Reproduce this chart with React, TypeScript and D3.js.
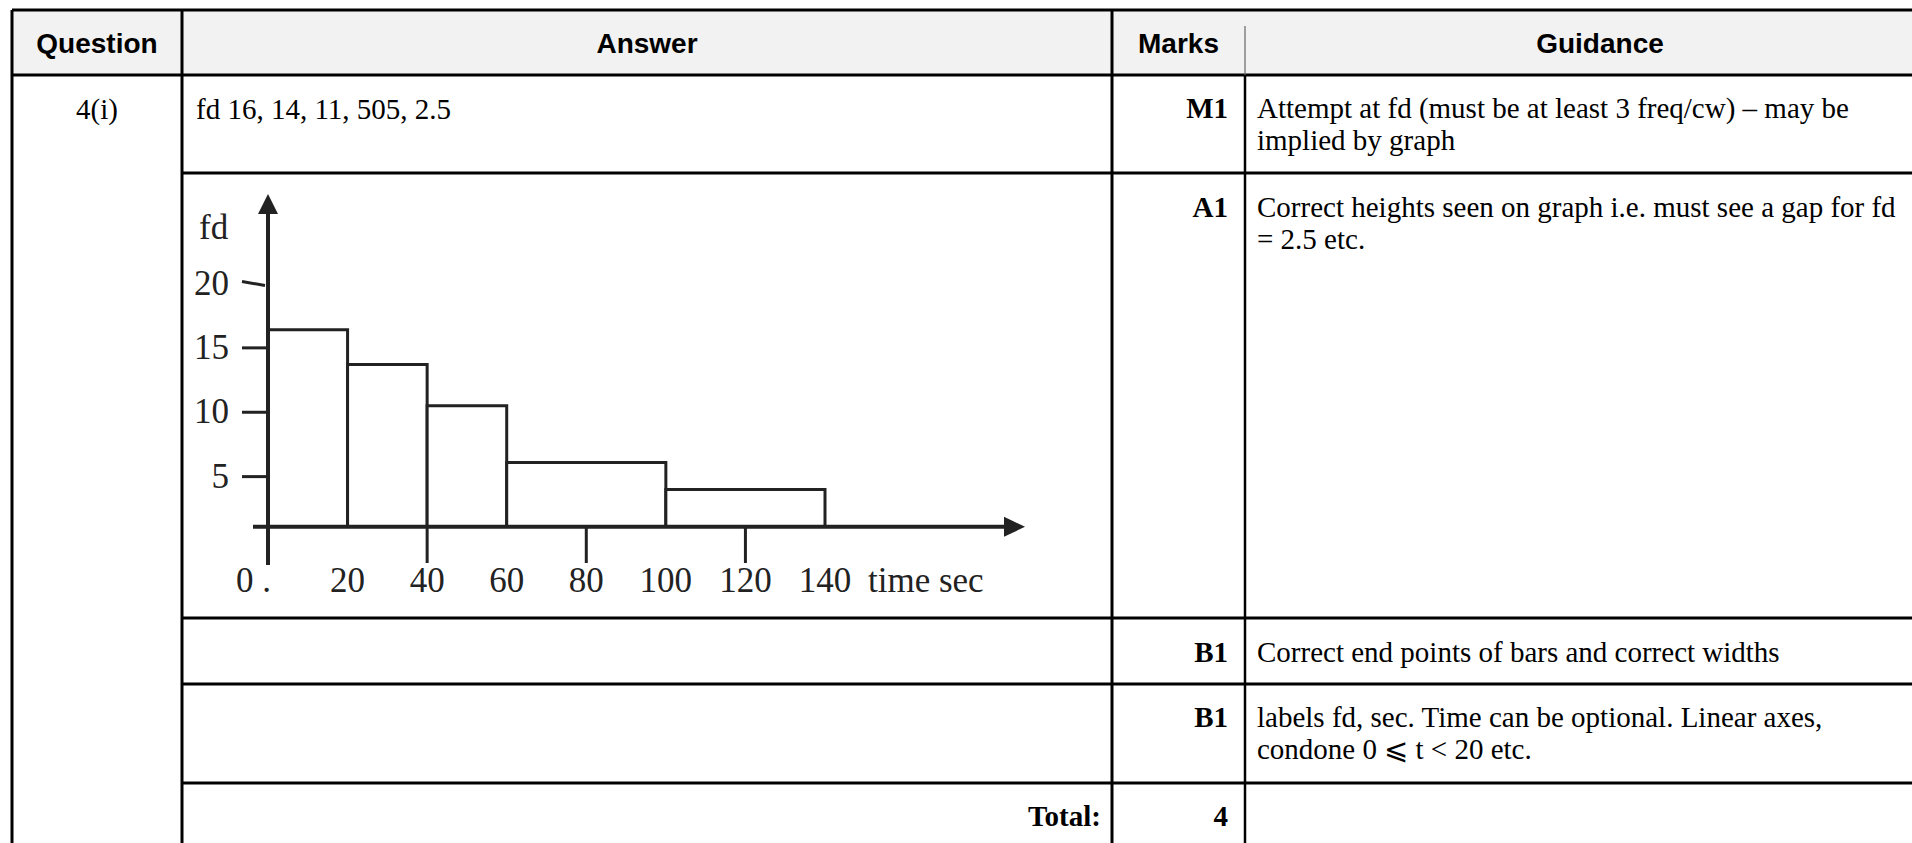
import React from "react";
import * as d3 from "d3";

// ---------- data ----------
const headers = ["Question", "Answer", "Marks", "Guidance"];
const questionLabel = "4(i)";
const answerText = "fd 16, 14, 11, 505, 2.5";
const marks = ["M1", "A1", "B1", "B1"];
const guidance = [
  ["Attempt at fd (must be at least 3 freq/cw) \u2013 may be", "implied by graph"],
  ["Correct heights seen on graph i.e. must see a gap for fd", "= 2.5 etc."],
  ["Correct end points of bars and correct widths"],
  ["labels fd, sec. Time can be optional. Linear axes,", "condone 0 \u2A7D t < 20 etc."],
];
const totalLabel = "Total:";
const totalMarks = "4";

// histogram
const binEdges = [0, 20, 40, 60, 100, 140];
const fdValues = [16.4, 13.7, 10.5, 6.1, 4.0];
const yTicks = [5, 10, 15, 20];
const xTickLabels = [0, 20, 40, 60, 80, 100, 120, 140];
const xTickMarks = [40, 80, 120];
const axisBaseFd = 1.1;
const yLabel = "fd";
const xLabel = "time sec";

// ---------- layout ----------
const W = 1912;
const H = 843;
const colX = [12, 182, 1112, 1245, 1955];
const rowY = [10, 75, 173, 618, 684, 783, 900];

const serif = "'Liberation Serif', 'Times New Roman', serif";
const sans = "'Liberation Sans', Arial, sans-serif";

export default function App() {
  const x = d3.scaleLinear().domain([0, 140]).range([268, 825]);
  const y = d3.scaleLinear().domain([0, 20]).range([541, 283.5]);
  const base = y(axisBaseFd);
  const x0 = x(0);

  const bars = fdValues.map((v, i) => ({ a: binEdges[i], b: binEdges[i + 1], v }));

  const bodySize = 29;
  const lh = 32;
  const marksRowBase = [118, 217, 662, 727];

  return (
    <svg
      width={W}
      height={H}
      style={{ position: "absolute", left: 0, top: 0, background: "#fff" }}
    >
      {/* header fill */}
      <rect x={colX[0]} y={rowY[0]} width={W - colX[0]} height={rowY[1] - rowY[0]} fill="#f2f2f2" />

      {/* header text */}
      {headers.map((h, i) => (
        <text
          key={h}
          x={(colX[i] + colX[i + 1]) / 2}
          y={53}
          textAnchor="middle"
          fontFamily={sans}
          fontWeight="bold"
          fontSize={28}
          fill="#000"
        >
          {h}
        </text>
      ))}

      {/* table lines */}
      <g stroke="#000" strokeWidth={3} fill="none">
        <line x1={colX[0]} y1={rowY[0]} x2={W} y2={rowY[0]} />
        <line x1={colX[0]} y1={rowY[1]} x2={W} y2={rowY[1]} />
        {rowY.slice(2, 6).map((ry) => (
          <line key={ry} x1={colX[1]} y1={ry} x2={W} y2={ry} />
        ))}
        <line x1={colX[0]} y1={rowY[0]} x2={colX[0]} y2={H} />
        <line x1={colX[1]} y1={rowY[0]} x2={colX[1]} y2={H} />
        <line x1={colX[2]} y1={rowY[0]} x2={colX[2]} y2={H} />
        <line x1={colX[3]} y1={rowY[1]} x2={colX[3]} y2={H} strokeWidth={2.5} />
        <line x1={colX[3]} y1={rowY[0] + 16} x2={colX[3]} y2={rowY[1]} strokeWidth={1.2} stroke="#666" />
      </g>

      {/* question */}
      <text x={(colX[0] + colX[1]) / 2} y={119} textAnchor="middle" fontFamily={serif} fontSize={bodySize}>
        {questionLabel}
      </text>
      {/* answer text */}
      <text x={196} y={119} fontFamily={serif} fontSize={bodySize}>
        {answerText}
      </text>

      {/* marks */}
      {marks.map((m, i) => (
        <text key={i} x={1228} y={marksRowBase[i]} textAnchor="end" fontFamily={serif} fontWeight="bold" fontSize={bodySize}>
          {m}
        </text>
      ))}
      {/* guidance */}
      {guidance.map((lines, i) =>
        lines.map((t, j) => (
          <text key={i + "-" + j} x={1257} y={marksRowBase[i] + j * lh} fontFamily={serif} fontSize={bodySize}>
            {t}
          </text>
        ))
      )}
      {/* total */}
      <text x={1101} y={826} textAnchor="end" fontFamily={serif} fontWeight="bold" fontSize={bodySize}>
        {totalLabel}
      </text>
      <text x={1228} y={826} textAnchor="end" fontFamily={serif} fontWeight="bold" fontSize={bodySize}>
        {totalMarks}
      </text>

      {/* ---------- histogram ---------- */}
      <g stroke="#222" fill="none">
        {bars.map((d, i) => (
          <path
            key={i}
            d={`M${x(d.a)},${base}V${y(d.v)}H${x(d.b)}V${base}`}
            strokeWidth={3}
            fill="#fff"
          />
        ))}
        {/* y axis */}
        <line x1={x0} y1={565} x2={x0} y2={212} strokeWidth={4} />
        {/* x axis */}
        <line x1={253} y1={base} x2={1006} y2={base} strokeWidth={4} />
        {/* y ticks (top one drawn slightly slanted, as in the sketch) */}
        {yTicks.map((t) => (
          <line
            key={t}
            x1={x0 - 26}
            y1={t === 20 ? y(t) - 2 : y(t)}
            x2={t === 20 ? x0 - 3 : x0}
            y2={t === 20 ? y(t) + 2 : y(t)}
            strokeWidth={3}
          />
        ))}
        {/* x ticks */}
        {xTickMarks.map((t) => (
          <line key={t} x1={x(t)} y1={base} x2={x(t)} y2={563} strokeWidth={3} />
        ))}
      </g>
      {/* arrows */}
      <path d={`M${x0 - 10},214L${x0},194L${x0 + 10},214Z`} fill="#222" />
      <path d={`M1004,${base - 10}L1025,${base}L1004,${base + 10}Z`} fill="#222" />

      {/* y labels */}
      {yTicks.map((t) => (
        <text key={t} x={229} y={y(t) + 11} textAnchor="end" fontFamily={serif} fontSize={35} fill="#222">
          {t}
        </text>
      ))}
      <text x={199} y={239} fontFamily={serif} fontSize={35} fill="#222">
        {yLabel}
      </text>
      {/* x labels */}
      {xTickLabels.map((t) =>
        t === 0 ? (
          <text key={t} x={x(t) + 3} y={592} textAnchor="end" fontFamily={serif} fontSize={35} fill="#222">
            {"0 ."}
          </text>
        ) : (
          <text key={t} x={x(t)} y={592} textAnchor="middle" fontFamily={serif} fontSize={35} fill="#222">
            {t}
          </text>
        )
      )}
      <text x={868} y={592} fontFamily={serif} fontSize={35} fill="#222">
        {xLabel}
      </text>
    </svg>
  );
}
